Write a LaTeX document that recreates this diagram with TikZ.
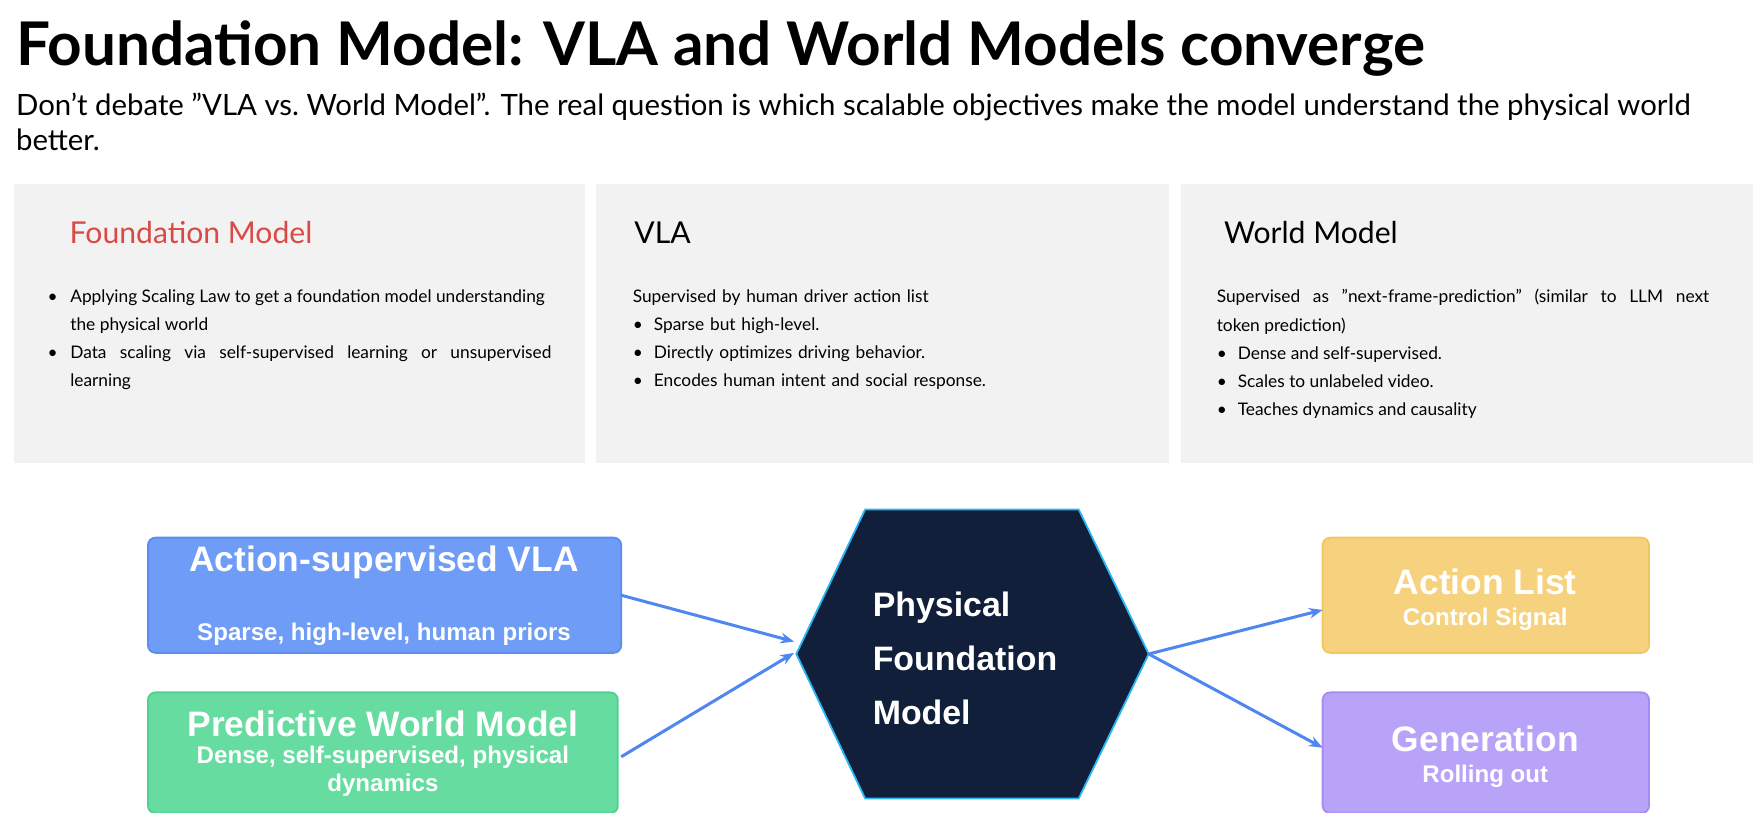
\documentclass[tikz,border=0pt]{standalone}
\usepackage{fontspec}
\setmainfont{Lato}
\newfontfamily\hel{Liberation Sans}
\usetikzlibrary{arrows.meta}
\definecolor{panel}{HTML}{F2F2F2}
\definecolor{redt}{HTML}{D94A45}
\definecolor{bluef}{HTML}{6E9CF7}
\definecolor{blueb}{HTML}{5B8DEF}
\definecolor{greenf}{HTML}{66DCA0}
\definecolor{greenb}{HTML}{4FD08E}
\definecolor{yelf}{HTML}{F6D27E}
\definecolor{yelb}{HTML}{F0C860}
\definecolor{purf}{HTML}{B8A3F8}
\definecolor{purb}{HTML}{A68CF2}
\definecolor{hexf}{HTML}{111F3A}
\definecolor{hexb}{HTML}{29B6F6}
\definecolor{arr}{HTML}{4F86F0}
\newcommand{\dq}{\symbol{34}}
\newcommand{\sq}{\symbol{39}}
\begin{document}
\begin{tikzpicture}[x=0.75pt,y=-0.75pt,
 pan/.style={fill=panel,draw=none},
 head/.style={anchor=base west,font=\fontsize{20}{24}\selectfont},
 body/.style={anchor=north west,font=\fontsize{11.5}{18.75}\selectfont,align=justify,inner sep=0pt},
 box/.style={rounded corners=5pt,line width=1.2pt},
 big/.style={font=\hel\bfseries\fontsize{23.5}{27}\selectfont,text=white,anchor=base},
 small/.style={font=\hel\bfseries\fontsize{16}{19}\selectfont,text=white,anchor=base,align=center},
 con/.style={draw=arr,line width=2pt,-{Stealth[length=9pt,width=7pt]}}]
\useasboundingbox (0,0) rectangle (1560,719);
\node[anchor=base west,inner sep=0pt,font=\bfseries\fontsize{40}{46}\selectfont] (title) at (14,58) {Foundation Model: VLA and World Models converge};
\node[anchor=north west,inner sep=0pt,text width=1530*0.75pt,align=flush left,font=\fontsize{19.5}{23.5}\selectfont] (sub) at (14,82) {Don\sq t debate \dq VLA vs.\ World Model\dq. The real question is which scalable objectives make the model understand the physical world better.};
\fill[panel] (12,163) rectangle (518,410);
\fill[panel] (528,163) rectangle (1035,410);
\fill[panel] (1046,163) rectangle (1552,410);
\node[head,text=redt] (h1) at (57,216) {Foundation Model};
\node[head] (h2) at (557,216) {VLA};
\node[head] (h3) at (1079,216) {World Model};
\node[body,text width=446*0.75pt] (b1) at (42,256) {%
\makebox[15pt][l]{\textbullet}Applying Scaling Law to get a foundation model understanding\\
\hspace*{15pt}the physical world\\
\makebox[15pt][l]{\textbullet}Data scaling via self-supervised learning or unsupervised\linebreak
\hspace*{15pt}learning};
\node[body,text width=420*0.75pt,align=left] (b2) at (560,256) {%
Supervised by human driver action list\\
\makebox[14pt][l]{\textbullet}Sparse but high-level.\\
\makebox[14pt][l]{\textbullet}Directly optimizes driving behavior.\\
\makebox[14pt][l]{\textbullet}Encodes human intent and social response.};
\node[body,text width=436*0.75pt] (b3) at (1077,256) {%
Supervised as \dq next-frame-prediction\dq\ (similar to LLM next\linebreak
token prediction)\\
\makebox[14pt][l]{\textbullet}Dense and self-supervised.\\
\makebox[14pt][l]{\textbullet}Scales to unlabeled video.\\
\makebox[14pt][l]{\textbullet}Teaches dynamics and causality};
% bottom
\draw[box,fill=bluef,draw=blueb] (131,476) rectangle (550,578);
\node[big] (vlat) at (340,506) {Action-supervised VLA};
\node[small] (vlas) at (340,567) {Sparse, high-level, human priors};
\draw[box,fill=greenf,draw=greenb] (131,613) rectangle (547,720);
\node[big] (wmt) at (339,652) {Predictive World Model};
\node[small,anchor=north,inner sep=0pt] (wms) at (339,660) {Dense, self-supervised, physical\\dynamics};
\draw[fill=hexf,draw=hexb,line width=1.2pt] (766,451) -- (955,451) -- (1017,579) -- (955,707) -- (766,707) -- (705,579) -- cycle;
\coordinate (hr) at (1017,579);
\node[anchor=west,align=left,text=white,font=\hel\bfseries\fontsize{22.5}{36}\selectfont] (pfm) at (768,583) {Physical\\Foundation\\Model};
\draw[box,fill=yelf,draw=yelb] (1171,476) rectangle (1460,578);
\node[big] (alt) at (1315,526) {Action List};
\node[small] (als) at (1315,554) {Control Signal};
\draw[box,fill=purf,draw=purb] (1171,613) rectangle (1460,720);
\node[big] (gent) at (1315,665) {Generation};
\node[small] (gens) at (1315,693) {Rolling out};
\coordinate (vlaR) at (550,527);
\coordinate (wmR) at (550,670);
\coordinate (alL) at (1171,540);
\coordinate (genL) at (1171,662);
\draw[con] (vlaR) -- (703,568);
\draw[con] (wmR) -- (703,578);
\draw[con] (hr) -- (alL);
\draw[con] (hr) -- (genL);
\end{tikzpicture}
\end{document}
